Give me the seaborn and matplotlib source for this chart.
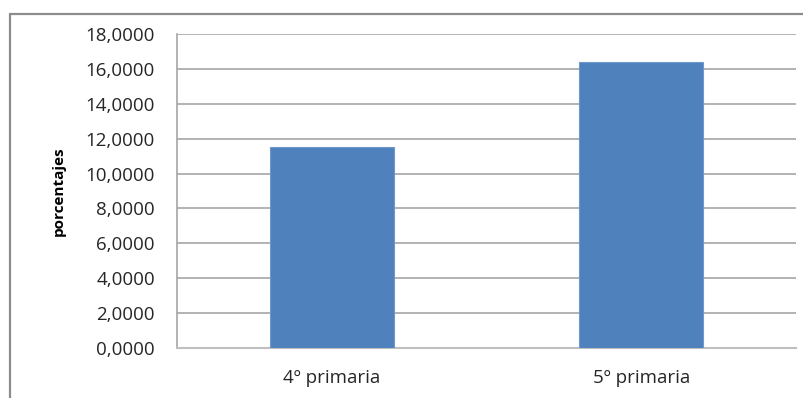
import matplotlib
matplotlib.use("Agg")
import matplotlib.pyplot as plt
from matplotlib.lines import Line2D
import matplotlib.ticker as mticker
import seaborn as sns
import pandas as pd

categorias = ["4º primaria", "5º primaria"]
porcentajes = [11.55, 16.37]
y_ticks = [0, 2, 4, 6, 8, 10, 12, 14, 16, 18]

sns.set_theme(style="white")
plt.rcParams["font.family"] = ["Open Sans", "DejaVu Sans"]

W, H = 804, 398
fig = plt.figure(figsize=(W / 100, H / 100), dpi=100)
ax = fig.add_axes([177 / W, 1 - 348 / H, (796 - 177) / W, (348 - 34) / H])

df = pd.DataFrame({"curso": categorias, "valor": porcentajes})
sns.barplot(data=df, x="curso", y="valor", color="#4F81BD", width=0.4,
            saturation=1, ax=ax, edgecolor="#6F98CC", linewidth=0.8, zorder=3)

ax.set_ylim(0, 18)
ax.set_yticks(y_ticks)
ax.yaxis.set_major_formatter(mticker.FuncFormatter(lambda v, p: f"{v:.4f}".replace(".", ",")))
ax.grid(axis="y", color="#A6A6A6", linewidth=1.2, zorder=0)
ax.set_axisbelow(True)
for s in ["top", "right"]:
    ax.spines[s].set_visible(False)
ax.spines["left"].set_color("#A6A6A6")
ax.spines["bottom"].set_color("#BFBFBF")
ax.spines["left"].set_linewidth(1.2)
ax.spines["bottom"].set_linewidth(1.5)
ax.tick_params(axis="both", length=0, labelsize=13.5, colors="#262626")
ax.tick_params(axis="y", pad=16)
ax.tick_params(axis="x", pad=15)
ax.set_xlabel("")
ax.set_ylabel("porcentajes", fontsize=11, fontweight="bold", color="black", labelpad=14)

# outer chart frame
fig.add_artist(Line2D([10 / W, 10 / W], [0, 1 - 14 / H], transform=fig.transFigure,
                      color="#8C8C8C", linewidth=1.6))
fig.add_artist(Line2D([10 / W, 1], [1 - 14 / H, 1 - 14 / H], transform=fig.transFigure,
                      color="#8C8C8C", linewidth=1.6))

fig.savefig("out.png", dpi=100)
